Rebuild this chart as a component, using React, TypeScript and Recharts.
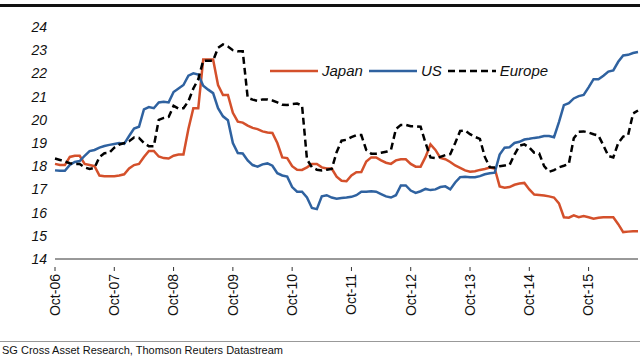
import { LineChart, Line, XAxis, YAxis, Legend } from 'recharts'

// month index 0 = Oct-06, monthly points
const JAPAN = [
  18.1, 18.05, 18.05, 18.4, 18.45, 18.45, 18.1, 18.05, 18.0, 17.6,
  17.57, 17.57, 17.57, 17.6, 17.65, 17.9, 18.05, 18.1, 18.4, 18.66,
  18.66, 18.42, 18.35, 18.33, 18.45, 18.5, 18.5, 19.6, 20.5, 20.5,
  22.6, 22.6, 22.6, 21.5, 21.07, 21.07, 20.3, 19.92, 19.88, 19.75,
  19.65, 19.6, 19.5, 19.45, 19.43, 19.0, 18.38, 18.35, 18.0, 17.85,
  17.84, 17.95, 18.1, 18.1, 17.95, 17.9, 17.9, 17.55, 17.37, 17.35,
  17.6, 17.74, 17.75, 18.2, 18.38, 18.38, 18.25, 18.15, 18.1, 18.25,
  18.3, 18.3, 18.1, 17.98, 17.98, 18.4, 18.94, 18.7, 18.36, 18.3,
  18.18, 18.03, 17.93, 17.82, 17.76, 17.78, 17.84, 17.88, 17.94, 17.9,
  17.13, 17.07, 17.1, 17.2, 17.25, 17.28, 17.0, 16.78, 16.76, 16.74,
  16.7, 16.65, 16.4, 15.8, 15.78, 15.88, 15.8, 15.85, 15.8, 15.74,
  15.78, 15.8, 15.8, 15.8, 15.5, 15.16, 15.18, 15.2, 15.2,
]

const US = [
  17.82, 17.8, 17.8, 18.05, 18.18, 18.22, 18.45, 18.65, 18.7, 18.8,
  18.87, 18.92, 18.96, 19.0, 18.96, 19.3, 19.62, 19.7, 20.45, 20.55,
  20.5, 20.75, 20.78, 20.75, 21.2, 21.35, 21.5, 21.9, 22.0, 21.95,
  21.47, 21.3, 21.15, 20.5, 20.15, 19.98, 19.0, 18.57, 18.55, 18.25,
  18.05, 17.98, 18.08, 18.12, 18.02, 17.7, 17.6, 17.55, 17.1, 16.9,
  16.9, 16.65, 16.2, 16.15, 16.7, 16.75, 16.65, 16.6, 16.63, 16.65,
  16.68, 16.75, 16.9, 16.9, 16.92, 16.9, 16.8, 16.7, 16.65, 16.75,
  17.17, 17.17, 16.95, 16.85, 16.92, 17.02, 16.97, 17.0, 17.1, 17.13,
  17.0, 17.3, 17.53, 17.55, 17.52, 17.52, 17.57, 17.65, 17.7, 17.72,
  18.5, 18.8, 18.82, 19.0, 19.05, 19.15, 19.18, 19.22, 19.25, 19.3,
  19.3, 19.25, 19.9, 20.63, 20.72, 20.92, 21.02, 21.07, 21.4, 21.75,
  21.75, 21.9, 22.08, 22.13, 22.5, 22.77, 22.8, 22.88, 22.92,
]

const EUROPE = [
  18.33, 18.27, 18.2, 18.13, 18.1, 18.1, 17.95, 17.88, 17.93, 18.4,
  18.56, 18.58, 18.8, 18.93, 19.0, 19.08, 19.24, 19.22, 19.0, 18.86,
  18.86, 20.0, 20.08, 20.12, 20.6, 20.48, 20.5, 20.8, 21.35, 21.75,
  22.55, 22.55, 22.55, 23.1, 23.25, 23.16, 23.0, 22.95, 22.95, 20.95,
  20.87, 20.82, 20.88, 20.88, 20.83, 20.75, 20.65, 20.64, 20.68, 20.7,
  20.62, 18.3, 17.95, 17.85, 17.82, 17.85, 17.88, 18.6, 19.1, 19.14,
  19.25, 19.34, 19.34, 18.7, 18.54, 18.54, 18.58, 18.62, 18.7, 19.6,
  19.78, 19.78, 19.72, 19.72, 19.7, 19.0, 18.38, 18.35, 18.4, 18.48,
  18.52, 19.0, 19.52, 19.54, 19.38, 19.26, 19.18, 18.4, 17.96, 17.94,
  18.0, 18.03, 18.05, 18.5, 18.88, 18.94, 18.8, 18.58, 18.55, 18.0,
  17.76, 17.83, 17.95, 18.02, 18.1, 19.2, 19.48, 19.5, 19.45, 19.38,
  19.32, 18.9, 18.44, 18.38, 19.0, 19.28, 19.34, 20.27, 20.4,
]

const X_TICKS = [0, 12, 24, 36, 48, 60, 72, 84, 96, 108]
const X_LABELS = ['Oct-06', 'Oct-07', 'Oct-08', 'Oct-09', 'Oct-10', 'Oct-11', 'Oct-12', 'Oct-13', 'Oct-14', 'Oct-15']
const Y_TICKS = [14, 15, 16, 17, 18, 19, 20, 21, 22, 23, 24]

const RED = '#d4502b'
const BLUE = '#2f62a0'
const FONT = '"Liberation Sans", Arial, sans-serif'

const data = JAPAN.map((v, i) => ({ m: i, japan: v, us: US[i], europe: EUROPE[i] }))

function XTick({ x, y, payload }: any) {
  const label = X_LABELS[X_TICKS.indexOf(payload.value)]
  return (
    <g transform={`translate(${x},${y})`}>
      <line x1={0} y1={0} x2={0} y2={4} stroke="#333" strokeWidth={1} />
      <text
        transform="rotate(-90)"
        x={-7}
        y={0}
        dy="0.35em"
        textAnchor="end"
        fontSize={14}
        fill="#111"
        fontFamily={FONT}
      >
        {label}
      </text>
    </g>
  )
}

function LegendBox() {
  const item = (color: string, label: string, dashed?: boolean) => (
    <div style={{ display: 'flex', alignItems: 'center', marginRight: 6 }}>
      <svg width={48} height={6}>
        <line
          x1={0}
          y1={3}
          x2={48}
          y2={3}
          stroke={color}
          strokeWidth={2.5}
          strokeDasharray={dashed ? '7 4' : undefined}
        />
      </svg>
      <span style={{ marginLeft: 4, fontStyle: 'italic', fontSize: 15, color: '#111' }}>{label}</span>
    </div>
  )
  return (
    <div style={{ display: 'flex', fontFamily: FONT }}>
      {item(RED, 'Japan')}
      {item(BLUE, 'US')}
      {item('#000', 'Europe', true)}
    </div>
  )
}

export default function App() {
  return (
    <div style={{ position: 'relative', width: 640, height: 360, background: '#fff', fontFamily: FONT }}>
      <style>{`body{margin:0}`}</style>
      <div style={{ position: 'absolute', left: 0, top: 4, width: 640, height: 3, background: '#111' }} />
      <LineChart width={640} height={340} data={data} margin={{ top: 27, right: 2, left: 0, bottom: 0 }}>
        <XAxis
          dataKey="m"
          type="number"
          domain={[0, 118]}
          ticks={X_TICKS}
          tick={<XTick />}
          tickLine={false}
          axisLine={{ stroke: '#333', strokeWidth: 1 }}
          height={64}
          interval={0}
        />
        <YAxis
          type="number"
          domain={[14, 24]}
          ticks={Y_TICKS}
          width={55}
          axisLine={false}
          tickLine={false}
          tick={{ fontSize: 14, fontStyle: 'italic', fill: '#111', fontFamily: FONT }}
          interval={0}
        />
        <Legend
          content={<LegendBox />}
          wrapperStyle={{ position: 'absolute', top: 62, left: 270, width: 'auto' }}
        />
        <Line dataKey="japan" stroke={RED} strokeWidth={2.5} dot={false} isAnimationActive={false} />
        <Line dataKey="us" stroke={BLUE} strokeWidth={2.5} dot={false} isAnimationActive={false} />
        <Line
          dataKey="europe"
          stroke="#000"
          strokeWidth={2.5}
          strokeDasharray="7 4"
          dot={false}
          isAnimationActive={false}
        />
      </LineChart>
      <div style={{ position: 'absolute', left: 0, top: 341, width: 640, height: 1, background: '#999' }} />
      <div style={{ position: 'absolute', left: 2, top: 344, fontSize: 11, color: '#111' }}>
        SG Cross Asset Research, Thomson Reuters Datastream
      </div>
    </div>
  )
}
